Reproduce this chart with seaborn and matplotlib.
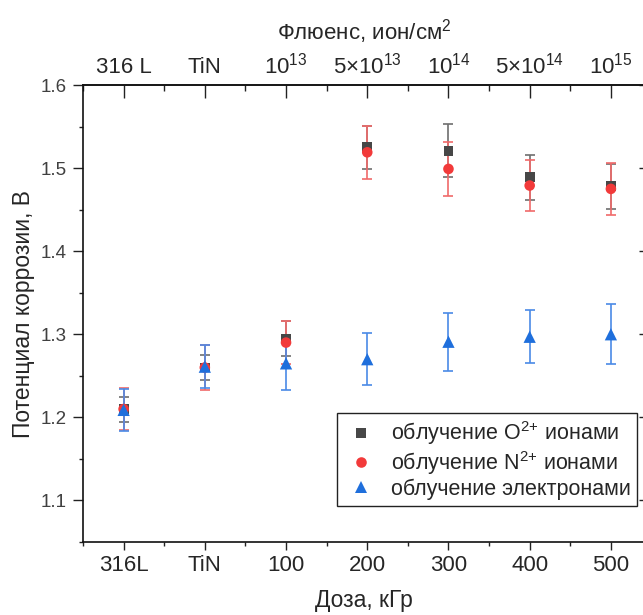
import numpy as np
import pandas as pd
import matplotlib
matplotlib.use("Agg")
import matplotlib.pyplot as plt
import seaborn as sns
from matplotlib.ticker import MultipleLocator

# ---------------------------------------------------------------------------
# Data
# ---------------------------------------------------------------------------
dose_labels = ['316L', 'TiN', '100', '200', '300', '400', '500']
fluence_labels = ['316 L', 'TiN', '10$^{13}$', '5×10$^{13}$',
                  '10$^{14}$', '5×10$^{14}$', '10$^{15}$']

o_mean = [1.210, 1.260, 1.295, 1.525, 1.521, 1.489, 1.478]
o_err = [0.015, 0.015, 0.021, 0.026, 0.032, 0.027, 0.027]
n_mean = [1.210, 1.260, 1.290, 1.519, 1.499, 1.479, 1.475]
n_err = [0.025, 0.027, 0.026, 0.032, 0.033, 0.031, 0.031]
e_mean = [1.209, 1.261, 1.265, 1.270, 1.291, 1.297, 1.300]
e_err = [0.025, 0.026, 0.032, 0.031, 0.035, 0.032, 0.036]

series_names = [r'облучение O$^{\text{2+}}$ ионами',
                r'облучение N$^{\text{2+}}$ ионами',
                'облучение электронами']

# ---------------------------------------------------------------------------
# Styling
# ---------------------------------------------------------------------------
sns.set_theme(style='ticks')
plt.rcParams['font.family'] = ['Liberation Sans', 'DejaVu Sans']
plt.rcParams['mathtext.fontset'] = 'custom'
plt.rcParams['mathtext.rm'] = 'Liberation Sans'
plt.rcParams['mathtext.default'] = 'regular'

marker_colors = {series_names[0]: '#474747',
                 series_names[1]: '#f23a3a',
                 series_names[2]: '#1f6fdc'}
err_colors = ['#6e6e6e', '#f06a6a', '#4a8ae6']
markers = {series_names[0]: 's', series_names[1]: 'o', series_names[2]: '^'}
sizes = {series_names[0]: 50, series_names[1]: 58, series_names[2]: 78}

x = np.arange(len(dose_labels))
df = pd.concat([
    pd.DataFrame({'x': x, 'y': m, 'err': e, 'series': s})
    for m, e, s in zip([o_mean, n_mean, e_mean], [o_err, n_err, e_err], series_names)
], ignore_index=True)

fig = plt.figure(figsize=(6.43, 6.15), dpi=100)
ax = fig.add_axes([83 / 643, 1 - 542 / 615, (645 - 83) / 643, (542 - 85) / 615])

# error bars first, markers on top
for s, c in zip(series_names, err_colors):
    d = df[df['series'] == s]
    ax.errorbar(d['x'], d['y'], yerr=d['err'], fmt='none', ecolor=c,
                elinewidth=1.2, capsize=3.5, capthick=1.2, zorder=2)

sns.scatterplot(data=df, x='x', y='y', hue='series', style='series',
                palette=marker_colors, markers=markers, size='series',
                sizes=sizes, linewidth=0, ax=ax, zorder=3)

ax.set_xlim(-0.5, 6.42)
ax.set_ylim(1.05, 1.6)

ax.set_xticks(x, dose_labels)
ax.xaxis.set_minor_locator(MultipleLocator(0.5))
ax.set_yticks([1.1, 1.2, 1.3, 1.4, 1.5, 1.6])
ax.yaxis.set_minor_locator(MultipleLocator(0.05))

ax.tick_params(axis='x', which='major', direction='out', length=5.5, width=1,
               labelsize=16, pad=4, color='#222222')
ax.tick_params(axis='x', which='minor', direction='out', length=3, width=1,
               color='#222222')
ax.tick_params(axis='y', which='major', direction='out', length=7, width=1,
               labelsize=13.5, pad=5, labelcolor='#404040', color='#222222',
               right=True)
ax.tick_params(axis='y', which='minor', direction='out', length=3, width=1,
               color='#222222')
for t in ax.yaxis.get_major_ticks():
    t.tick2line.set_marker(matplotlib.lines.TICKLEFT)
    t.tick2line.set_markersize(4)

for sp in ['left', 'bottom', 'top']:
    ax.spines[sp].set_linewidth(1.2)
    ax.spines[sp].set_color('#111111')

ax.set_xlabel('Доза, кГр', fontsize=16.5, labelpad=9)
ax.set_ylabel('Потенциал коррозии, В', fontsize=16.5, labelpad=4)

# top axis: fluence
sec = ax.secondary_xaxis('top')
sec.set_xticks(x, fluence_labels)
sec.xaxis.set_minor_locator(MultipleLocator(0.5))
sec.tick_params(axis='x', which='major', direction='in', length=9, width=1,
                labelsize=16, pad=5, color='#222222')
sec.tick_params(axis='x', which='minor', direction='in', length=4.5, width=1,
                color='#222222')
sec.spines['top'].set_linewidth(1.2)
sec.set_xlabel('Флюенс, ион/см$^2$', fontsize=16, labelpad=9)

# legend (markers only)
handles, labels = ax.get_legend_handles_labels()
ax.legend(handles, labels, loc='lower right', bbox_to_anchor=(0.986, 0.078),
          fontsize=15.5, frameon=True, fancybox=False, edgecolor='#222222',
          framealpha=1, handlelength=1.6, handletextpad=0.6,
          labelspacing=0.08, borderpad=0.3, borderaxespad=0)
ax.get_legend().get_frame().set_linewidth(1.0)

fig.savefig('out.png', dpi=100)
